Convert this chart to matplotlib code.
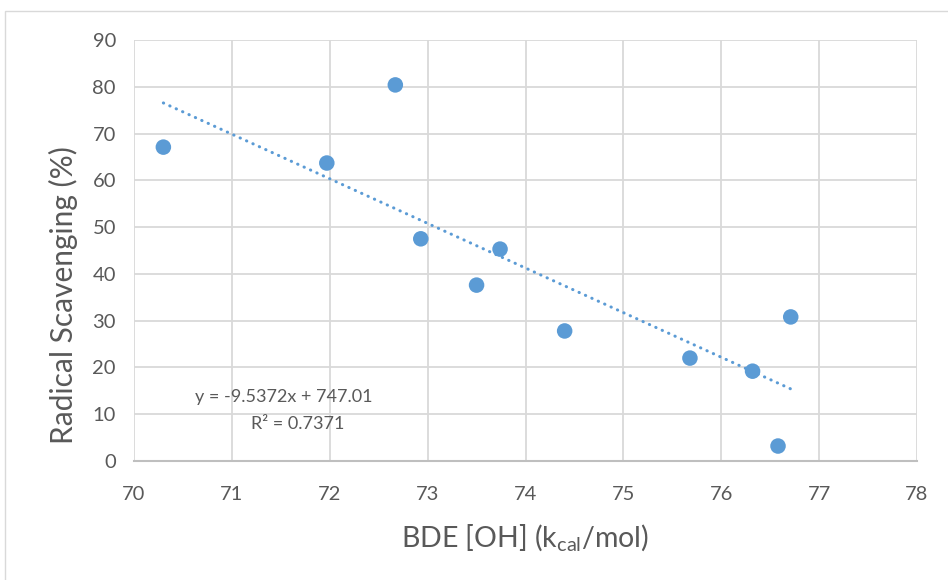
import matplotlib
matplotlib.use("Agg")
import matplotlib.pyplot as plt
from matplotlib.patches import Rectangle
import numpy as np

# BDE of the O-H bond vs. radical scavenging activity
bde_oh = [70.30, 71.97, 72.67, 72.93, 73.50, 73.74, 74.40, 75.68, 76.32, 76.58, 76.71]
scavenging = [67.1, 63.7, 80.4, 47.5, 37.6, 45.3, 27.8, 22.0, 19.2, 3.2, 30.8]

# Linear trendline coefficients
slope = -9.5372
intercept = 747.01
r_squared = 0.7371

x_ticks = [70, 71, 72, 73, 74, 75, 76, 77, 78]
y_ticks = [0, 10, 20, 30, 40, 50, 60, 70, 80, 90]

blue = "#5B9BD5"
grid_c = "#D9D9D9"
text_c = "#595959"

plt.rcParams["font.family"] = ["Lato", "DejaVu Sans"]
plt.rcParams["mathtext.fontset"] = "custom"
plt.rcParams["mathtext.rm"] = "Lato"

fig = plt.figure(figsize=(9.48, 5.8), dpi=100)
ax = fig.add_axes([134 / 948, 1 - 461 / 580, (917 - 134) / 948, (461 - 40) / 580])

# chart frame
fig.patches.append(Rectangle((5 / 948, -0.05), 1.1, 1 - 11 / 580 + 0.05,
                             transform=fig.transFigure, fill=False,
                             edgecolor=grid_c, lw=1.0, clip_on=False))

ax.set_xlim(70, 78)
ax.set_ylim(0, 90)
ax.set_xticks(x_ticks)
ax.set_yticks(y_ticks)
ax.grid(True, color=grid_c, lw=1.3)
ax.set_axisbelow(True)
for s in ["top", "right", "left"]:
    ax.spines[s].set_visible(False)
ax.spines["bottom"].set_color("#BFBFBF")
ax.spines["bottom"].set_linewidth(1.5)
ax.tick_params(length=0, labelsize=14.5, labelcolor=text_c)
ax.tick_params(axis="x", pad=18)
ax.tick_params(axis="y", pad=13)

# trendline across the data range
xt = np.array([min(bde_oh), max(bde_oh)])
ax.plot(xt, slope * xt + intercept, color=blue, lw=2.2,
        linestyle=(0, (0.1, 2.2)), dash_capstyle="round", zorder=2)

ax.scatter(bde_oh, scavenging, s=125, color=blue, edgecolors="none", zorder=3)

fig.text(525 / 948, 1 - 538 / 580, "BDE [OH] (k$_{\\mathregular{cal}}$/mol)",
         ha="center", va="center", fontsize=20.5, color=text_c)
fig.text(63 / 948, 1 - 295 / 580, "Radical Scavenging (%)", rotation=90,
         ha="center", va="center", fontsize=21.5, color=text_c)

fig.text(284 / 948, 1 - 397 / 580, f"y = {slope}x + {intercept}", ha="center", va="center",
         fontsize=13, color=text_c)
fig.text(298 / 948, 1 - 424 / 580, f"R² = {r_squared}", ha="center", va="center",
         fontsize=13, color=text_c)

fig.savefig("out.png", dpi=100)
